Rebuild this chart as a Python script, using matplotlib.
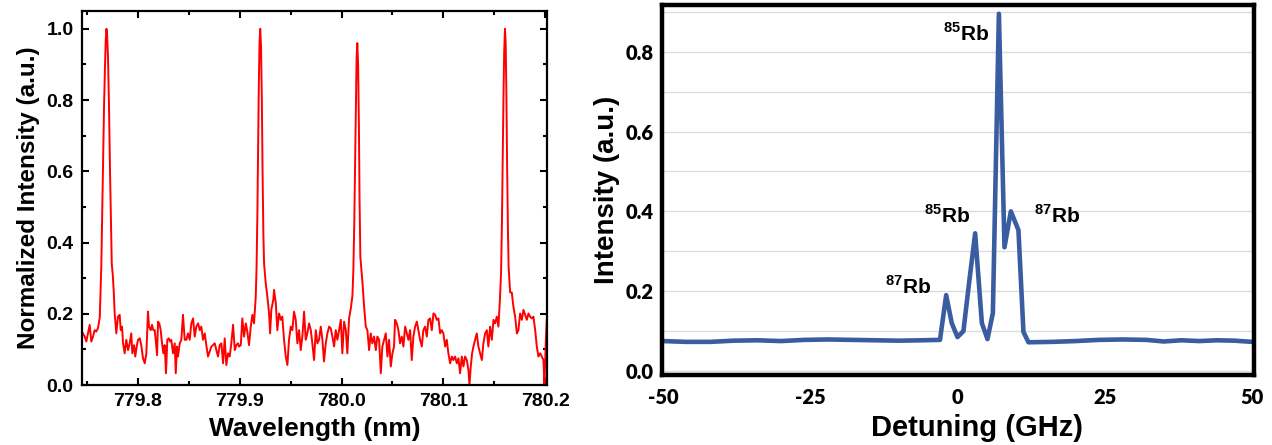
import numpy as np
import matplotlib
matplotlib.use("Agg")
import matplotlib.pyplot as plt
from matplotlib.ticker import MultipleLocator, FormatStrFormatter

plt.rcParams["font.family"] = ["Liberation Sans", "DejaVu Sans"]
plt.rcParams["font.weight"] = "bold"
plt.rcParams["axes.unicode_minus"] = False
plt.rcParams["mathtext.fontset"] = "custom"
plt.rcParams["mathtext.rm"] = "Liberation Sans:bold"
plt.rcParams["mathtext.bf"] = "Liberation Sans:bold"

# left panel: emission spectrum
wavelength = [
    779.7459, 779.7476, 779.7492, 779.7508, 779.7525, 779.7541, 779.7558, 779.7574, 779.7590, 779.7607,
    779.7624, 779.7631, 779.7639, 779.7646, 779.7656, 779.7666, 779.7676, 779.7683, 779.7690, 779.7697,
    779.7705, 779.7715, 779.7725, 779.7735, 779.7742, 779.7752, 779.7762, 779.7771, 779.7787, 779.7803,
    779.7820, 779.7830, 779.7843, 779.7853, 779.7869, 779.7885, 779.7902, 779.7918, 779.7934, 779.7944,
    779.7961, 779.7973, 779.7987, 779.8000, 779.8017, 779.8032, 779.8049, 779.8066, 779.8082, 779.8098,
    779.8108, 779.8125, 779.8138, 779.8150, 779.8164, 779.8177, 779.8187, 779.8197, 779.8209, 779.8223,
    779.8236, 779.8249, 779.8262, 779.8275, 779.8288, 779.8302, 779.8315, 779.8327, 779.8344, 779.8361,
    779.8371, 779.8383, 779.8393, 779.8410, 779.8426, 779.8442, 779.8459, 779.8475, 779.8492, 779.8508,
    779.8524, 779.8541, 779.8557, 779.8573, 779.8590, 779.8607, 779.8622, 779.8639, 779.8656, 779.8671,
    779.8688, 779.8705, 779.8721, 779.8737, 779.8754, 779.8770, 779.8786, 779.8803, 779.8819, 779.8836,
    779.8852, 779.8868, 779.8885, 779.8901, 779.8917, 779.8934, 779.8951, 779.8966, 779.8983, 779.8993,
    779.9010, 779.9025, 779.9042, 779.9059, 779.9074, 779.9091, 779.9108, 779.9124, 779.9140, 779.9157,
    779.9165, 779.9173, 779.9180, 779.9187, 779.9194, 779.9201, 779.9209, 779.9217, 779.9224, 779.9232,
    779.9239, 779.9255, 779.9271, 779.9288, 779.9298, 779.9310, 779.9330, 779.9337, 779.9354, 779.9369,
    779.9386, 779.9403, 779.9418, 779.9435, 779.9452, 779.9468, 779.9484, 779.9501, 779.9517, 779.9533,
    779.9550, 779.9566, 779.9583, 779.9599, 779.9615, 779.9632, 779.9648, 779.9664, 779.9681, 779.9698,
    779.9713, 779.9730, 779.9747, 779.9763, 779.9779, 779.9796, 779.9812, 779.9828, 779.9845, 779.9861,
    779.9878, 779.9894, 779.9910, 779.9927, 779.9943, 779.9959, 779.9976, 779.9993, 780.0008, 780.0025,
    780.0042, 780.0057, 780.0074, 780.0091, 780.0107, 780.0116, 780.0125, 780.0133, 780.0141, 780.0148,
    780.0155, 780.0163, 780.0171, 780.0177, 780.0185, 780.0205, 780.0222, 780.0238, 780.0254, 780.0271,
    780.0287, 780.0303, 780.0320, 780.0337, 780.0352, 780.0369, 780.0386, 780.0401, 780.0418, 780.0435,
    780.0451, 780.0467, 780.0484, 780.0500, 780.0516, 780.0526, 780.0543, 780.0559, 780.0575, 780.0592,
    780.0608, 780.0625, 780.0641, 780.0657, 780.0674, 780.0690, 780.0706, 780.0723, 780.0740, 780.0755,
    780.0772, 780.0789, 780.0804, 780.0821, 780.0838, 780.0854, 780.0870, 780.0887, 780.0903, 780.0920,
    780.0936, 780.0952, 780.0969, 780.0985, 780.1001, 780.1018, 780.1034, 780.1050, 780.1067, 780.1084,
    780.1099, 780.1116, 780.1133, 780.1149, 780.1165, 780.1182, 780.1198, 780.1214, 780.1231, 780.1247,
    780.1257, 780.1270, 780.1283, 780.1296, 780.1313, 780.1329, 780.1345, 780.1362, 780.1379, 780.1394,
    780.1411, 780.1428, 780.1443, 780.1460, 780.1477, 780.1493, 780.1509, 780.1526, 780.1542, 780.1558,
    780.1568, 780.1576, 780.1583, 780.1591, 780.1598, 780.1606, 780.1613, 780.1620, 780.1627, 780.1635,
    780.1642, 780.1657, 780.1673, 780.1689, 780.1706, 780.1723, 780.1738, 780.1755, 780.1772, 780.1788,
    780.1804, 780.1821, 780.1837, 780.1853, 780.1870, 780.1886, 780.1903, 780.1919, 780.1935, 780.1952,
    780.1968, 780.1984, 780.1994, 780.2008, 780.2017,
]
norm_intensity = [
    0.145, 0.136, 0.122, 0.145, 0.169, 0.122, 0.136, 0.154, 0.150, 0.160,
    0.190, 0.260, 0.330, 0.450, 0.620, 0.780, 0.900, 0.970, 1.000, 0.980,
    0.920, 0.780, 0.600, 0.450, 0.340, 0.310, 0.260, 0.200, 0.145, 0.192,
    0.197, 0.154, 0.164, 0.117, 0.089, 0.127, 0.098, 0.117, 0.145, 0.089,
    0.112, 0.080, 0.108, 0.127, 0.131, 0.112, 0.075, 0.061, 0.089, 0.206,
    0.164, 0.154, 0.169, 0.154, 0.154, 0.117, 0.084, 0.178, 0.173, 0.154,
    0.117, 0.089, 0.112, 0.033, 0.127, 0.131, 0.122, 0.127, 0.089, 0.117,
    0.033, 0.108, 0.080, 0.117, 0.127, 0.197, 0.127, 0.127, 0.145, 0.127,
    0.173, 0.187, 0.136, 0.164, 0.173, 0.154, 0.164, 0.127, 0.145, 0.112,
    0.080, 0.094, 0.108, 0.112, 0.117, 0.098, 0.080, 0.112, 0.117, 0.061,
    0.131, 0.056, 0.089, 0.080, 0.117, 0.169, 0.098, 0.112, 0.117, 0.108,
    0.112, 0.187, 0.136, 0.173, 0.150, 0.112, 0.164, 0.197, 0.173, 0.248,
    0.330, 0.480, 0.660, 0.840, 0.960, 1.000, 0.950, 0.800, 0.600, 0.420,
    0.340, 0.286, 0.248, 0.201, 0.145, 0.211, 0.240, 0.267, 0.230, 0.154,
    0.201, 0.183, 0.192, 0.127, 0.080, 0.056, 0.127, 0.164, 0.154, 0.206,
    0.183, 0.117, 0.154, 0.098, 0.136, 0.206, 0.127, 0.145, 0.173, 0.154,
    0.117, 0.070, 0.154, 0.117, 0.127, 0.164, 0.127, 0.066, 0.117, 0.145,
    0.164, 0.159, 0.136, 0.108, 0.154, 0.127, 0.154, 0.183, 0.089, 0.178,
    0.154, 0.089, 0.187, 0.215, 0.250, 0.320, 0.450, 0.620, 0.800, 0.920,
    0.960, 0.900, 0.720, 0.520, 0.360, 0.290, 0.220, 0.164, 0.154, 0.098,
    0.145, 0.117, 0.136, 0.098, 0.136, 0.127, 0.033, 0.108, 0.127, 0.145,
    0.080, 0.127, 0.052, 0.089, 0.108, 0.183, 0.173, 0.154, 0.117, 0.136,
    0.108, 0.164, 0.145, 0.127, 0.154, 0.070, 0.136, 0.164, 0.178, 0.154,
    0.127, 0.108, 0.154, 0.164, 0.136, 0.183, 0.187, 0.154, 0.201, 0.197,
    0.183, 0.187, 0.145, 0.154, 0.145, 0.108, 0.127, 0.089, 0.061, 0.080,
    0.070, 0.080, 0.061, 0.075, 0.033, 0.080, 0.052, 0.080, 0.070, 0.042,
    0.000, 0.052, 0.089, 0.108, 0.127, 0.145, 0.108, 0.089, 0.070, 0.117,
    0.145, 0.154, 0.108, 0.164, 0.127, 0.183, 0.173, 0.192, 0.164, 0.248,
    0.320, 0.450, 0.620, 0.800, 0.930, 1.000, 0.960, 0.820, 0.620, 0.440,
    0.330, 0.260, 0.260, 0.220, 0.192, 0.145, 0.154, 0.201, 0.183, 0.211,
    0.197, 0.183, 0.201, 0.192, 0.187, 0.192, 0.154, 0.108, 0.080, 0.089,
    0.080, 0.070, 0.000, 0.127, 0.183,
]

# right panel: absorption vs detuning
detuning = [-50, -46, -42, -38, -34, -30, -26, -22, -18, -14, -10, -6, -3.0,
            -1.95, -1.0, -0.03, 0.98, 2.0, 2.97, 4.11, 5.06, 5.98, 7.0, 7.95,
            9.03, 10.32, 11.17, 12.02, 16, 20, 24, 28, 32, 35, 38, 41, 44, 47, 50]
intensity = [0.075, 0.073, 0.073, 0.076, 0.077, 0.075, 0.078, 0.079, 0.078, 0.077, 0.076, 0.077, 0.078,
             0.190, 0.120, 0.085, 0.100, 0.228, 0.345, 0.120, 0.080, 0.145, 0.895, 0.310,
             0.400, 0.353, 0.098, 0.072, 0.073, 0.075, 0.078, 0.079, 0.078, 0.074, 0.077, 0.075, 0.077, 0.076, 0.073]
peak_labels = [(r"$^{85}$Rb", 1.4, 0.845), (r"$^{85}$Rb", -1.8, 0.39),
               (r"$^{87}$Rb", -8.4, 0.212), (r"$^{87}$Rb", 16.8, 0.39)]

fig = plt.figure(figsize=(12.72, 4.45), dpi=100)

# ---- left
ax1 = fig.add_axes([0.0645, 0.1348, 0.3656, 0.8404])
ax1.plot(wavelength, norm_intensity, color="#ff0000", lw=1.4)
ax1.set_xlim(779.745, 780.202)
ax1.set_ylim(0, 1.05)
ax1.xaxis.set_major_locator(MultipleLocator(0.1))
ax1.xaxis.set_minor_locator(MultipleLocator(0.05))
ax1.yaxis.set_major_locator(MultipleLocator(0.2))
ax1.yaxis.set_minor_locator(MultipleLocator(0.1))
ax1.xaxis.set_major_formatter(FormatStrFormatter("%.1f"))
ax1.yaxis.set_major_formatter(FormatStrFormatter("%.1f"))
ax1.tick_params(which="both", direction="in", top=True, right=True, width=1.5, labelsize=14)
ax1.tick_params(which="major", length=5, pad=6)
ax1.tick_params(which="minor", length=3)
for s in ax1.spines.values():
    s.set_linewidth(1.6)
ax1.set_xlabel("Wavelength (nm)", fontsize=19, fontweight="bold", labelpad=5)
ax1.set_ylabel("Normalized Intensity (a.u.)", fontsize=17.5, fontweight="bold", labelpad=5)

# ---- right
ax2 = fig.add_axes([0.5204, 0.1573, 0.4654, 0.8315])
ax2.plot(detuning, intensity, color="#3a5ca0", lw=3.3)
ax2.set_xlim(-50.2, 50.3)
ax2.set_ylim(-0.01, 0.917)
ax2.set_xticks([-50, -25, 0, 25, 50])
ax2.yaxis.set_major_locator(MultipleLocator(0.2))
ax2.yaxis.set_minor_locator(MultipleLocator(0.1))
ax2.yaxis.set_major_formatter(FormatStrFormatter("%.1f"))
ax2.grid(True, which="both", axis="y", color="#dcdcdc", lw=1.0)
ax2.set_axisbelow(True)
ax2.tick_params(which="both", length=0)
ax2.tick_params(axis="y", pad=6)
ax2.tick_params(axis="x", pad=9)
for lab in ax2.get_xticklabels() + ax2.get_yticklabels():
    lab.set_family("Lato")
    lab.set_fontweight("heavy")
    lab.set_fontsize(14.5)
for s in ax2.spines.values():
    s.set_linewidth(3.2)
    s.set_color("black")
ax2.set_xlabel("Detuning (GHz)", fontsize=21, fontweight="bold")
ax2.xaxis.set_label_coords(0.532, -0.105)
ax2.set_ylabel("Intensity (a.u.)", fontsize=20, fontweight="bold", labelpad=4)
for txt, x, y in peak_labels:
    ax2.text(x, y, txt, fontsize=15, fontweight="bold", ha="center", va="center")

fig.savefig("out.png", dpi=100)
